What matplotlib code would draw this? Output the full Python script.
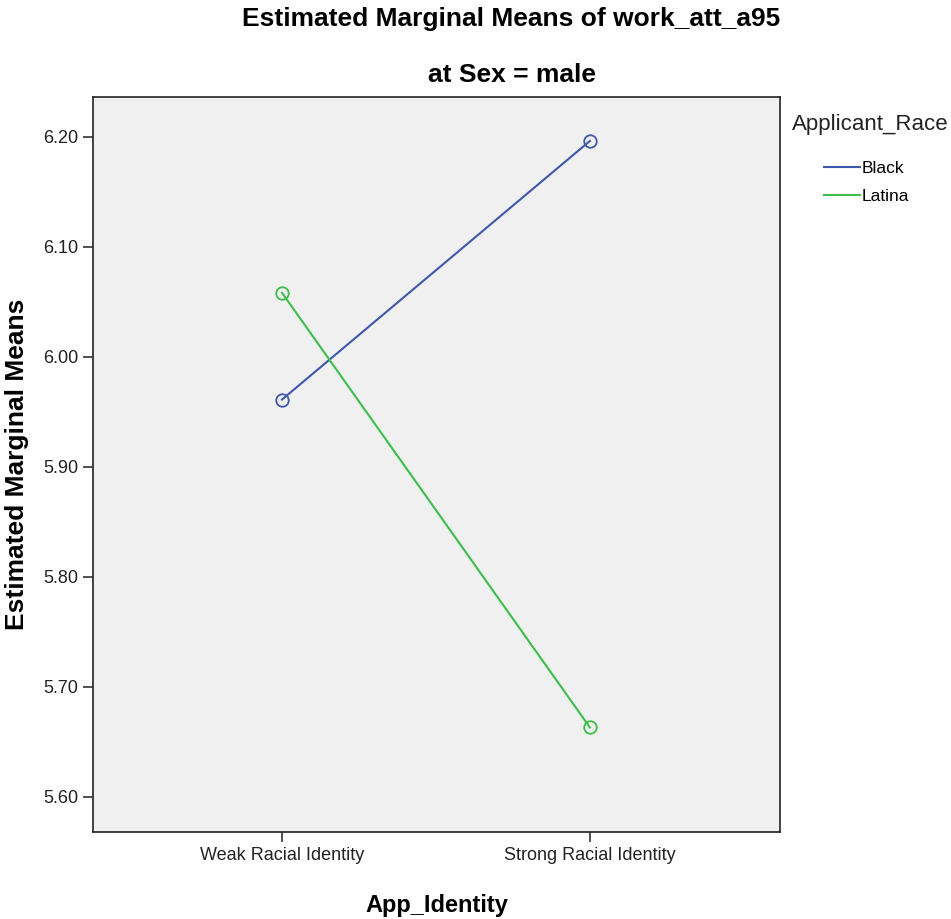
import numpy as np
import matplotlib.pyplot as plt

# Estimated marginal means
identity_levels = ['Weak Racial Identity', 'Strong Racial Identity']
black_means = [5.961, 6.196]
latina_means = [6.058, 5.663]
y_ticks = [5.60, 5.70, 5.80, 5.90, 6.00, 6.10, 6.20]

plt.rcParams['font.family'] = ['Liberation Sans', 'DejaVu Sans']

fig = plt.figure(figsize=(9.51, 9.19), dpi=100)
ax = fig.add_axes([0.0978, 0.0947, 0.7222, 0.7998])
ax.set_facecolor('#f0f0f0')

x = np.arange(len(identity_levels))
ax.plot(x, black_means, '-', color='#3e58ac', linewidth=1.5,
        marker='o', markersize=9, fillstyle='none', markeredgewidth=1.3,
        label='Black')
ax.plot(x, latina_means, '-', color='#3cbf4a', linewidth=1.5,
        marker='o', markersize=9, fillstyle='none', markeredgewidth=1.3,
        label='Latina')

ax.set_xlim(-0.614, 1.617)
ax.set_ylim(5.568, 6.236)
ax.set_xticks(x)
ax.set_xticklabels(identity_levels, fontsize=13, color='#222222')
ax.set_yticks(y_ticks)
ax.set_yticklabels([f'{v:.2f}' for v in y_ticks], fontsize=13, color='#222222')
ax.tick_params(axis='both', direction='out', length=7, width=1.2, color='#333333')
for sp in ax.spines.values():
    sp.set_color('#222222')
    sp.set_linewidth(1.2)

ax.set_xlabel('App_Identity', fontsize=17, fontweight='bold', labelpad=22)
ax.set_ylabel('Estimated Marginal Means', fontsize=19, fontweight='bold', labelpad=10)

fig.text(0.537, 0.979, 'Estimated Marginal Means of work_att_a95',
         ha='center', va='center', fontsize=19, fontweight='bold')
fig.text(0.538, 0.918, 'at Sex = male',
         ha='center', va='center', fontsize=19, fontweight='bold')

# legend: title flush left, entries indented like SPSS
fig.text(0.833, 0.864, 'Applicant_Race', ha='left', va='center', fontsize=16,
         color='#222222')
fig.legend(loc='upper left', bbox_to_anchor=(0.866, 0.825), frameon=False,
           fontsize=12.5, handlelength=2.1, handletextpad=0.1, labelspacing=0.75,
           borderaxespad=0, borderpad=0)
for h in fig.legends[0].legend_handles:
    h.set_marker('')

fig.savefig('out.png', dpi=100)
